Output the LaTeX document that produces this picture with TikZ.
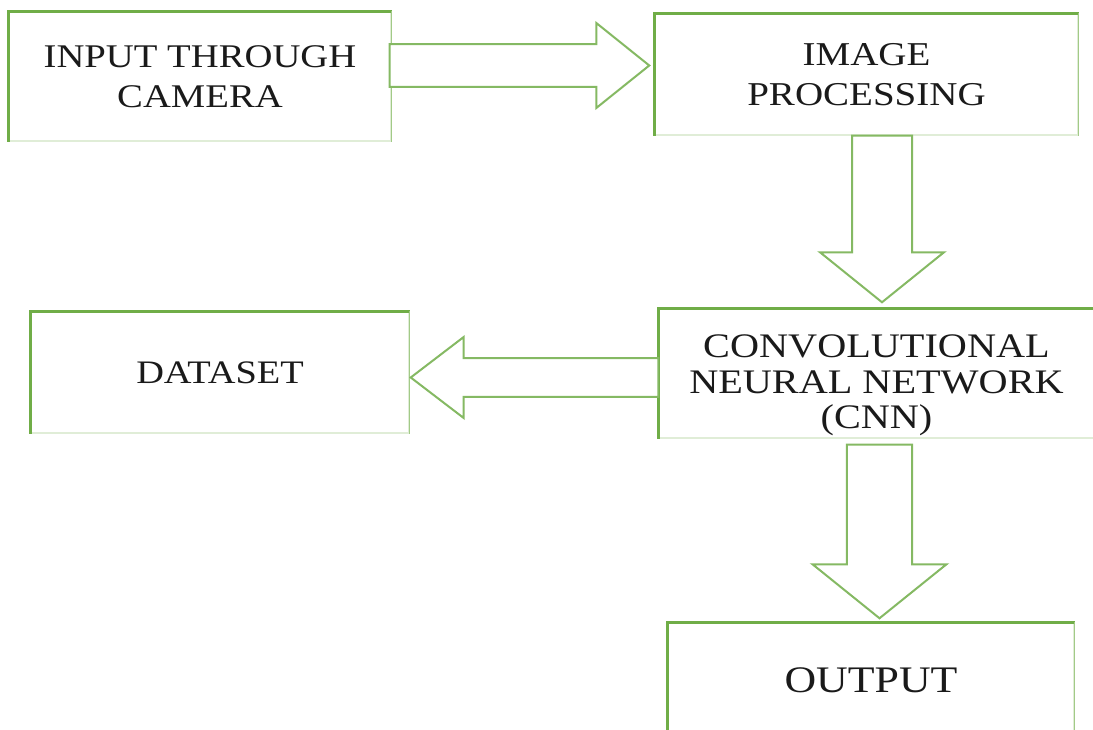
\documentclass[tikz,border=0pt]{standalone}
\usepackage{fontspec}
\usepackage{tikz}
\usetikzlibrary{calc, positioning}
\newfontfamily\boxfont[FakeStretch=1.17]{Liberation Serif}
\definecolor{vgreen}{HTML}{70AD47}
\definecolor{vink}{HTML}{1A1A1A}
\tikzset{
  stage/.style={rectangle, draw=vgreen!22, line width=1.1pt, fill=white, text=vink,
                inner sep=0pt, align=center},
  stageedge/.style={draw=vgreen, line width=1.9pt},
  sideedge/.style={draw=vgreen!65, line width=1.1pt},
  blockflow/.style={draw=vgreen!85, line width=1.5pt, line join=miter, fill=white}
}
% block arrow: from, to, shaft half width, head half width, head length
\newcommand{\blockarrow}[5]{%
  \coordinate (ba-s) at (#1);
  \coordinate (ba-t) at (#2);
  \coordinate (ba-h) at ($(ba-t)!#5!(ba-s)$);
  \draw[blockflow] ($(ba-s)!#3!90:(ba-t)$) -- ($(ba-h)!#3!90:(ba-t)$) -- ($(ba-h)!#4!90:(ba-t)$)
    -- (ba-t) -- ($(ba-h)!#4!-90:(ba-t)$) -- ($(ba-h)!#3!-90:(ba-t)$) -- ($(ba-s)!#3!-90:(ba-t)$) -- cycle;
}

\begin{document}
\begin{tikzpicture}[x=0.75pt, y=0.75pt]
  \useasboundingbox (0,0) rectangle (1093,729);
  \clip (0,0) rectangle (1093,729);
  % stages
  \node[stage, minimum width=286.5pt, minimum height=96.75pt,
        font=\boxfont\fontsize{24.8}{30}\selectfont] (cam) at (200,652.5) {INPUT THROUGH\\CAMERA};
  \node[stage, minimum width=317.25pt, minimum height=90.75pt,
        font=\boxfont\fontsize{25}{30}\selectfont] (img) at (866.5,654.5) {IMAGE\\PROCESSING};
  \node[stage, minimum width=326.25pt, minimum height=96.75pt,
        font=\boxfont\fontsize{25.8}{26.6}\selectfont] (cnn) at (876.5,355.5)
        {\rule{0pt}{35pt}CONVOLUTIONAL\\NEURAL NETWORK\\(CNN)};
  \node[stage, minimum width=283.5pt, minimum height=90.75pt,
        font=\boxfont\fontsize{24.6}{28}\selectfont] (data) at (220,356.5) {DATASET};
  \node[stage, minimum width=304.5pt, minimum height=85.5pt,
        font=\boxfont\fontsize{28.1}{32}\selectfont] (out) at (871,49) {OUTPUT};
  \foreach \n in {cam,img,cnn,data,out}{
    \draw[stageedge] (\n.south west) -- (\n.north west) -- (\n.north east);
    \draw[sideedge] (\n.north east) -- (\n.south east);
  }
  % flow
  \blockarrow{[shift={(-2,11)}]cam.east}{[shift={(-5,9)}]img.west}{16.1pt}{31.9pt}{39.75pt}
  \blockarrow{[shift={(15.5,0)}]img.south}{[shift={(5.5,6)}]cnn.north}{22.5pt}{46.5pt}{37.5pt}
  \blockarrow{[shift={(0,-4)}]cnn.west}{[shift={(1,-5)}]data.east}{14.6pt}{30.4pt}{39.75pt}
  \blockarrow{[shift={(3,-6)}]cnn.south}{[shift={(8.5,4)}]out.north}{24.4pt}{50.25pt}{40.5pt}
\end{tikzpicture}
\end{document}
